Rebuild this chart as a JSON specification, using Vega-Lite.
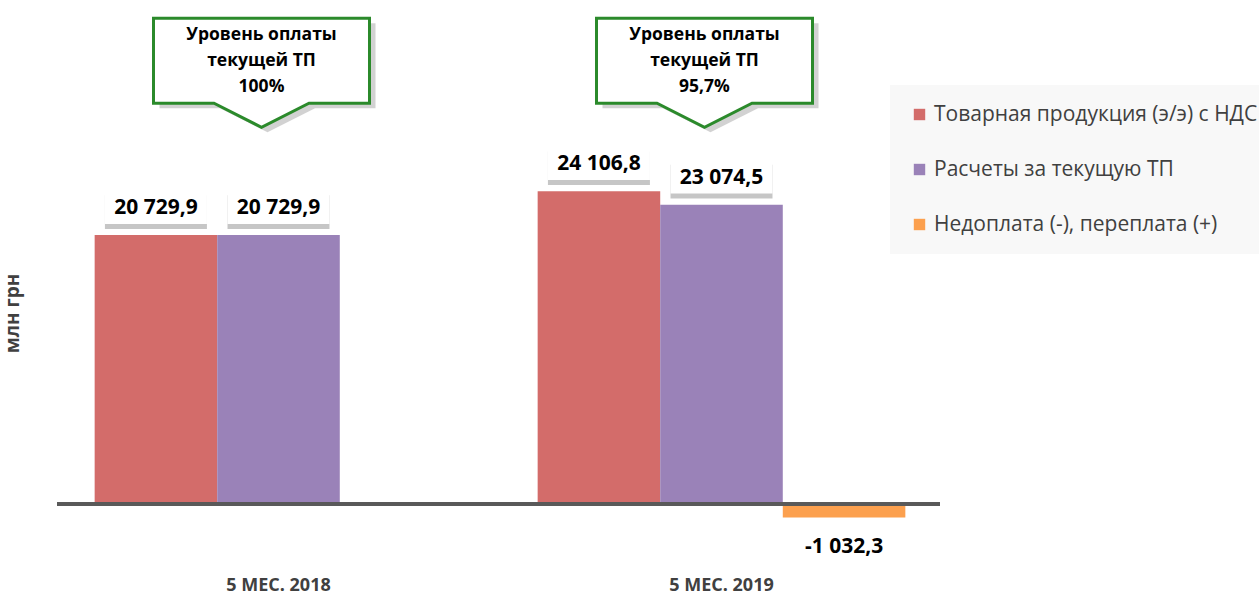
{
  "$schema": "https://vega.github.io/schema/vega-lite/v6.json",
  "width": 886,
  "height": 532,
  "autosize": {"type": "none"},
  "padding": {"left": 57, "top": 11, "right": 316, "bottom": 53},
  "config": {
    "view": {"stroke": null},
    "font": "Open Sans",
    "locale": {"number": {"decimal": ",", "thousands": " ", "grouping": [3], "currency": ["", ""], "minus": "-"}}
  },
  "data": {"values": [
    {"period": "5 МЕС. 2018", "series": "Товарная продукция (э/э) с НДС", "value": 20729.9},
    {"period": "5 МЕС. 2018", "series": "Расчеты за текущую ТП", "value": 20729.9},
    {"period": "5 МЕС. 2018", "series": "Недоплата (-), переплата (+)", "value": 0},
    {"period": "5 МЕС. 2019", "series": "Товарная продукция (э/э) с НДС", "value": 24106.8},
    {"period": "5 МЕС. 2019", "series": "Расчеты за текущую ТП", "value": 23074.5},
    {"period": "5 МЕС. 2019", "series": "Недоплата (-), переплата (+)", "value": -1032.3}
  ]},
  "encoding": {
    "x": {"field": "period", "type": "nominal", "sort": null,
      "scale": {"paddingInner": 0.17, "paddingOuter": 0.085},
      "axis": {"title": null, "domain": false, "ticks": false, "labelAngle": 0, "labelFontSize": 18, "labelFontWeight": "bold", "labelColor": "#404040", "labelPadding": 33}},
    "y": {"type": "quantitative",
      "scale": {"domain": [-3000, 38000], "nice": false, "zero": false},
      "axis": {"title": "млн грн", "labels": false, "ticks": false, "domain": false, "grid": false, "titleFontSize": 19, "titleFontWeight": "bold", "titleColor": "#404040", "titleAngle": -90, "titleX": -35, "titleY": 302}}
  },
  "layer": [
    {
      "mark": {"type": "bar"},
      "encoding": {
        "y": {"field": "value", "type": "quantitative"},
        "xOffset": {"field": "series", "type": "nominal", "sort": null,
          "scale": {"domain": ["Товарная продукция (э/э) с НДС", "Расчеты за текущую ТП", "Недоплата (-), переплата (+)"], "paddingInner": 0, "paddingOuter": 0}},
        "color": {"field": "series", "type": "nominal",
          "scale": {"domain": ["Товарная продукция (э/э) с НДС", "Расчеты за текущую ТП", "Недоплата (-), переплата (+)"], "range": ["#d36c6a", "#9a82b8", "#fca04e"]},
          "legend": {"title": null, "orient": "none", "legendX": 833, "legendY": 74, "fillColor": "#f8f8f8", "padding": 19, "rowPadding": 33, "symbolType": "square", "symbolSize": 130, "symbolStrokeWidth": 0, "labelFontSize": 21, "labelColor": "#404040", "labelOffset": 4, "labelLimit": 400}}
      }
    },
    {
      "transform": [{"filter": "datum.value > 0"}],
      "mark": {"type": "point", "shape": "M-1,-0.33 L1,-0.33 L1,0.33 L-1,0.33 Z", "filled": true, "fill": "#b8b8b8", "opacity": 0.8, "strokeWidth": 0, "size": 10404, "xOffset": 5, "yOffset": -23},
      "encoding": {
        "y": {"field": "value", "type": "quantitative"},
        "xOffset": {"field": "series", "type": "nominal", "sort": null}
      }
    },
    {
      "transform": [{"filter": "datum.value > 0"}],
      "mark": {"type": "point", "shape": "M-1,-0.33 L1,-0.33 L1,0.33 L-1,0.33 Z", "filled": true, "fill": "#ffffff", "opacity": 1, "strokeWidth": 0, "size": 10404, "yOffset": -28},
      "encoding": {
        "y": {"field": "value", "type": "quantitative"},
        "xOffset": {"field": "series", "type": "nominal", "sort": null}
      }
    },
    {
      "transform": [{"filter": "datum.value > 0"}],
      "mark": {"type": "text", "fontSize": 21, "fontWeight": "bold", "color": "#000000", "baseline": "middle", "dy": -27},
      "encoding": {
        "y": {"field": "value", "type": "quantitative"},
        "xOffset": {"field": "series", "type": "nominal", "sort": null},
        "text": {"field": "value", "type": "quantitative", "format": ",.1f"}
      }
    },
    {
      "transform": [{"filter": "datum.value < 0"}],
      "mark": {"type": "text", "fontSize": 21, "fontWeight": "bold", "color": "#000000", "baseline": "middle", "dy": 30},
      "encoding": {
        "y": {"field": "value", "type": "quantitative"},
        "xOffset": {"field": "series", "type": "nominal", "sort": null},
        "text": {"field": "value", "type": "quantitative", "format": ",.1f"}
      }
    },
    {
      "mark": {"type": "rule", "color": "#595959", "strokeWidth": 3},
      "encoding": {"y": {"datum": 0}, "x": {"value": 0}, "x2": {"value": 883}}
    },
    {
      "data": {"values": [
        {"period": "5 МЕС. 2018", "lines": ["Уровень оплаты", "текущей ТП", "100%"]},
        {"period": "5 МЕС. 2019", "lines": ["Уровень оплаты", "текущей ТП", "95,7%"]}
      ]},
      "layer": [
        {
          "mark": {"type": "point", "shape": "M-1,-0.505 L1,-0.505 L1,0.282 L0.44,0.282 L0,0.505 L-0.44,0.282 L-1,0.282 Z", "filled": true, "fill": "#bfbfbf", "opacity": 0.7, "strokeWidth": 0, "size": 46656, "xOffset": -11, "yOffset": 5},
          "encoding": {"y": {"datum": 33243}}
        },
        {
          "mark": {"type": "point", "shape": "M-1,-0.505 L1,-0.505 L1,0.282 L0.44,0.282 L0,0.505 L-0.44,0.282 L-1,0.282 Z", "filled": true, "fill": "#ffffff", "stroke": "#2b8a2b", "strokeWidth": 3, "opacity": 1, "size": 46656, "xOffset": -17},
          "encoding": {"y": {"datum": 33243}}
        },
        {
          "mark": {"type": "text", "fontSize": 17.5, "fontWeight": "bold", "color": "#000000", "baseline": "middle", "lineHeight": 26, "xOffset": -17},
          "encoding": {"y": {"datum": 36133}, "text": {"field": "lines"}}
        }
      ]
    }
  ]
}
